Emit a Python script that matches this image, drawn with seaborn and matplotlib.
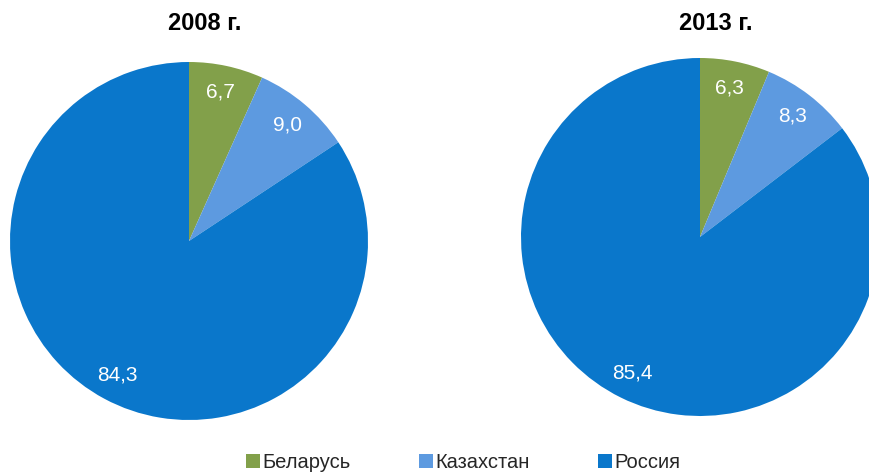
import matplotlib
matplotlib.use("Agg")
import matplotlib.pyplot as plt
from matplotlib.lines import Line2D
import seaborn as sns

sns.set_theme(style="white")
plt.rcParams["font.family"] = ["Liberation Sans", "DejaVu Sans"]

countries = ["Беларусь", "Казахстан", "Россия"]
years = ["2008 г.", "2013 г."]
shares_2008 = [6.7, 9.0, 84.3]
shares_2013 = [6.3, 8.3, 85.4]
colors = sns.color_palette(["#82A04A", "#5D9AE0", "#0A77CB"])

W, H = 869, 474
fig = plt.figure(figsize=(W / 100, H / 100), dpi=100)
fig.patch.set_facecolor("white")

# pie centres and radius in pixels
centres = [(189, 241), (700, 237)]
radius = 179

for (cx, cy), title, shares in zip(centres, years, [shares_2008, shares_2013]):
    ax = fig.add_axes([(cx - radius) / W, (H - cy - radius) / H,
                       2 * radius / W, 2 * radius / H])
    ax.pie(shares, colors=colors, startangle=90, counterclock=False,
           radius=1.0, wedgeprops=dict(linewidth=0),
           autopct=lambda p: f"{p:.1f}".replace(".", ","),
           pctdistance=0.85,
           textprops=dict(color="white", fontsize=15))
    ax.set_xlim(-1, 1)
    ax.set_ylim(-1, 1)
    ax.set_aspect("equal")
    ax.axis("off")
    fig.text((cx + 16) / W, 1 - 24 / H, title, ha="center", va="center",
             fontsize=17, fontweight="bold", color="black")

handles = [Line2D([0], [0], marker="s", linestyle="none", markersize=10.5,
                  markerfacecolor=c, markeredgewidth=0) for c in colors]
fig.legend(handles, countries, loc="center",
           bbox_to_anchor=(463 / W, 1 - 463 / H),
           ncol=3, frameon=False, fontsize=14.5, handlelength=0.7,
           handletextpad=0.1, columnspacing=3.4, borderpad=0)

fig.savefig("out.png", dpi=100, facecolor="white")
